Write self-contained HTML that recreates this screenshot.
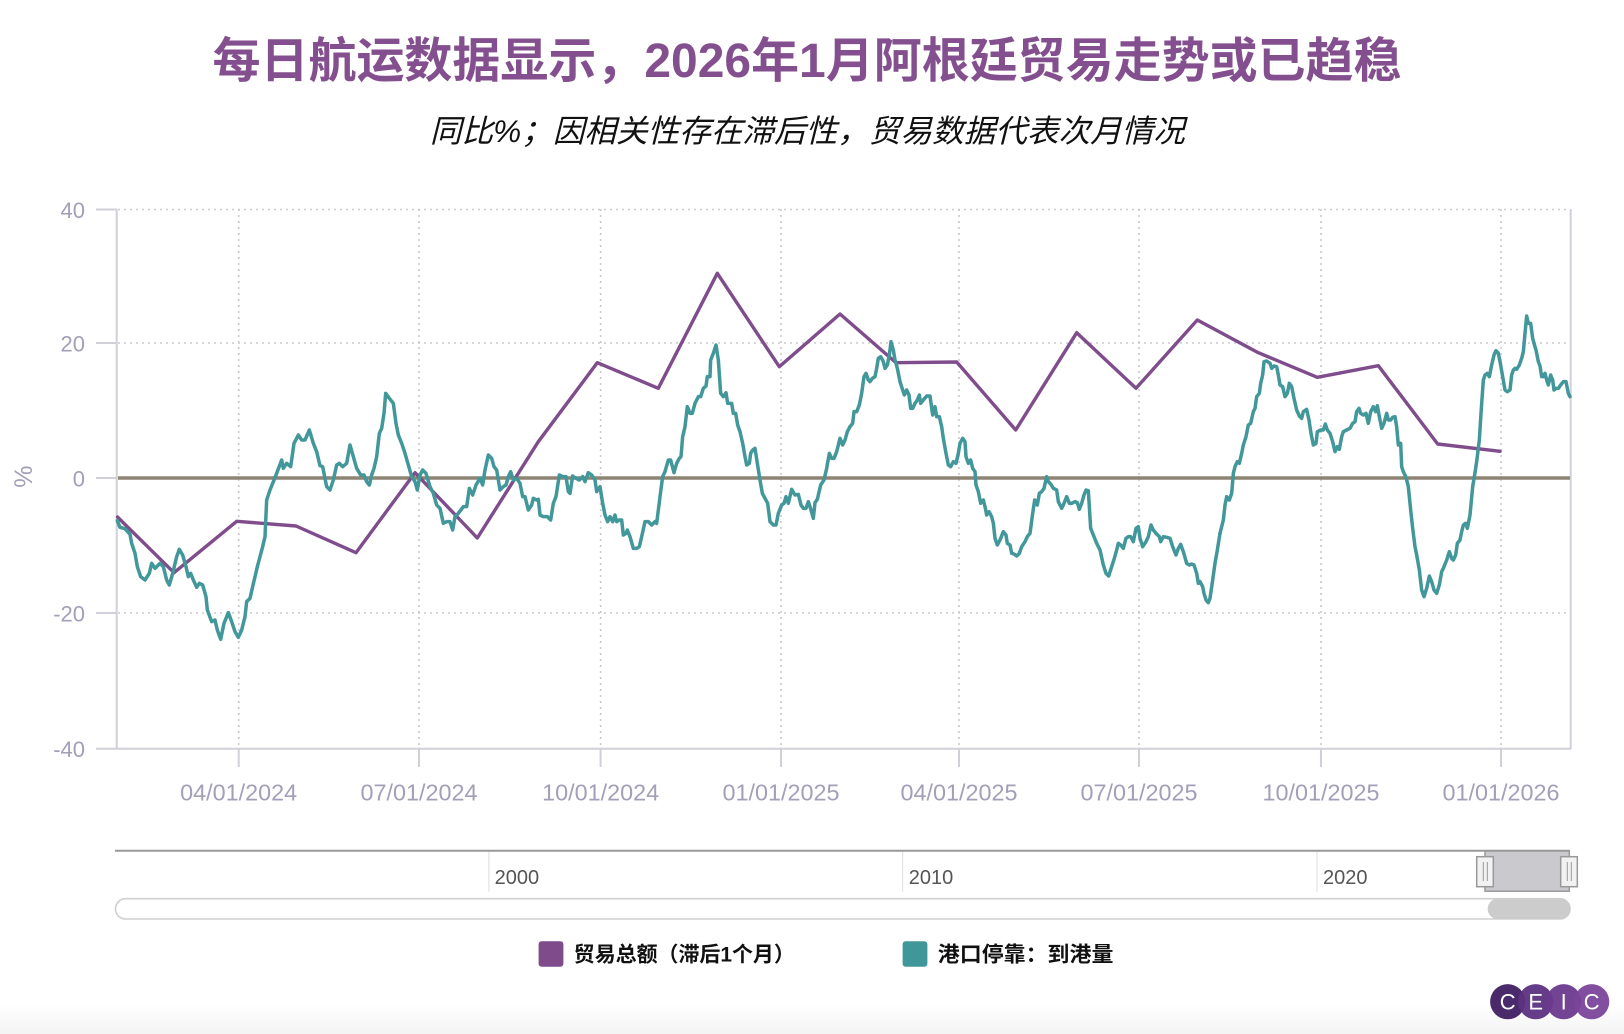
<!DOCTYPE html>
<html><head><meta charset="utf-8"><style>
html,body{margin:0;padding:0;background:#fff;}
svg{display:block;}
text{font-family:"Liberation Sans","Noto Sans CJK SC",sans-serif;}
</style></head><body>
<svg width="1624" height="1034" viewBox="0 0 1624 1034" xmlns="http://www.w3.org/2000/svg">
<defs><linearGradient id="bg" x1="0" y1="0" x2="0" y2="1"><stop offset="0" stop-color="#ffffff"/><stop offset="1" stop-color="#f3f3f3"/></linearGradient></defs>
<rect x="0" y="0" width="1624" height="1034" fill="#fff"/>
<rect x="0" y="1004" width="1624" height="30" fill="url(#bg)"/>

<!-- Title -->
<text x="807" y="77" text-anchor="middle" font-size="48" font-weight="bold" fill="#844f8e" textLength="1189" lengthAdjust="spacingAndGlyphs">每日航运数据显示，2026年1月阿根廷贸易走势或已趋稳</text>
<text x="807.4" y="142" text-anchor="middle" font-size="31.5" font-style="italic" fill="#111" textLength="755" lengthAdjust="spacingAndGlyphs">同比%；因相关性存在滞后性，贸易数据代表次月情况</text>

<!-- grid -->
<g stroke="#c9c9cf" stroke-width="1.6" stroke-dasharray="2,4" fill="none">
<line x1="118" y1="209.5" x2="1570" y2="209.5"/>
<line x1="118" y1="343" x2="1570" y2="343"/>
<line x1="118" y1="613" x2="1570" y2="613"/>
<line x1="238.7" y1="209" x2="238.7" y2="748"/>
<line x1="419" y1="209" x2="419" y2="748"/>
<line x1="600.6" y1="209" x2="600.6" y2="748"/>
<line x1="781" y1="209" x2="781" y2="748"/>
<line x1="959" y1="209" x2="959" y2="748"/>
<line x1="1139" y1="209" x2="1139" y2="748"/>
<line x1="1321" y1="209" x2="1321" y2="748"/>
<line x1="1501" y1="209" x2="1501" y2="748"/>
</g>

<!-- axes -->
<g stroke="#d0d0d8" stroke-width="2" fill="none">
<line x1="116.7" y1="209" x2="116.7" y2="749"/>
<line x1="1570.7" y1="209" x2="1570.7" y2="749"/>
<line x1="96" y1="748.7" x2="1571" y2="748.7"/>
<line x1="96" y1="209.5" x2="117" y2="209.5"/>
<line x1="96" y1="343" x2="117" y2="343"/>
<line x1="96" y1="478" x2="117" y2="478"/>
<line x1="96" y1="613" x2="117" y2="613"/>
<line x1="238.7" y1="748" x2="238.7" y2="767"/>
<line x1="419" y1="748" x2="419" y2="767"/>
<line x1="600.6" y1="748" x2="600.6" y2="767"/>
<line x1="781" y1="748" x2="781" y2="767"/>
<line x1="959" y1="748" x2="959" y2="767"/>
<line x1="1139" y1="748" x2="1139" y2="767"/>
<line x1="1321" y1="748" x2="1321" y2="767"/>
<line x1="1501" y1="748" x2="1501" y2="767"/>
</g>

<!-- y labels -->
<g font-size="22" fill="#a39fb8" text-anchor="end">
<text x="85" y="218">40</text>
<text x="85" y="351.5">20</text>
<text x="85" y="486.5">0</text>
<text x="85" y="621.5">-20</text>
<text x="85" y="757">-40</text>
</g>
<text transform="translate(32,476.7) rotate(-90)" text-anchor="middle" font-size="25" fill="#a39fb8">%</text>

<!-- x labels -->
<g font-size="23" fill="#a39fb8" text-anchor="middle">
<text x="238.7" y="800.7" textLength="117" lengthAdjust="spacingAndGlyphs">04/01/2024</text>
<text x="419" y="800.7" textLength="117" lengthAdjust="spacingAndGlyphs">07/01/2024</text>
<text x="600.6" y="800.7" textLength="117" lengthAdjust="spacingAndGlyphs">10/01/2024</text>
<text x="781" y="800.7" textLength="117" lengthAdjust="spacingAndGlyphs">01/01/2025</text>
<text x="959" y="800.7" textLength="117" lengthAdjust="spacingAndGlyphs">04/01/2025</text>
<text x="1139" y="800.7" textLength="117" lengthAdjust="spacingAndGlyphs">07/01/2025</text>
<text x="1321" y="800.7" textLength="117" lengthAdjust="spacingAndGlyphs">10/01/2025</text>
<text x="1501" y="800.7" textLength="117" lengthAdjust="spacingAndGlyphs">01/01/2026</text>
</g>

<!-- zero line -->
<line x1="118" y1="478" x2="1570" y2="478" stroke="#8e8474" stroke-width="3.4"/>

<!-- purple series -->
<polyline fill="none" stroke="#7f4c8c" stroke-width="3.4" stroke-linejoin="round" stroke-linecap="round" points="117.5,517 174,572.7 236.7,521.3 296,526 356,552.7 415,472.7 477.3,538 538.3,441.7 597.3,362.7 658.3,388.3 717.3,273.3 779.3,366.7 840,314 896,362.7 956.7,362 1015.7,430 1076.7,332.7 1136,388.3 1197.3,320 1258.3,352.7 1317.3,377.3 1378.3,365.7 1437.7,444 1500,451.3"/>

<!-- teal series -->
<g fill="none" stroke="#41979a" stroke-width="10.5" stroke-linejoin="round" stroke-linecap="round">
<polyline transform="translate(100,300) scale(0.333333)" points="52,662 60,682 75,686 90,703 95,730 105,760 112,800 122,830 135,840 148,820 155,790 165,805 180,790 190,800 200,840 208,855 218,820 230,770 238,748 248,765 258,800 265,830 272,820 280,840 290,862 298,850 308,855 318,890 322,930 335,965 345,960 352,990 362,1018 372,970 385,938 395,965 405,995 415,1012 425,990 435,950 440,905 450,895 458,860 465,830 472,800 480,770 488,740 495,710 500,600 505,585 510,570 520,545 530,520 545,480 550,505 560,490 572,500 582,430 595,405 605,420 615,420 628,390 640,430 650,455 660,497 668,500 680,560 690,570 700,540 710,495 718,490 728,500 740,490 750,435 760,470 770,505 782,525 792,525 800,545 808,555 815,525 822,505 830,470 838,400 845,385 852,340 857,280 868,295 880,310 888,370 895,405 905,430 915,460 925,495 935,530 945,545 952,570 960,525 968,510 978,520 990,560 1000,580 1010,615 1020,625 1030,670 1040,665 1050,665 1058,690 1065,650 1075,640 1090,620 1100,620 1108,565 1118,585 1128,555 1140,535"/>
<polyline transform="translate(470,250) scale(0.333333)" points="30,685 38,705 45,660 55,615 65,625 72,650 80,660 90,720 100,710 108,705 115,680 122,665 130,690 140,685 150,700 158,740 165,740 175,780 185,765 190,745 200,750 205,748 210,795 220,800 232,800 242,810 250,760 258,740 268,675 278,680 288,680 295,725 300,730 308,678 318,685 328,690 338,680 345,695 355,668 365,675 375,690 380,725 390,710 398,760 405,795 413,815 420,800 428,815 435,795 440,815 448,810 455,810 460,855 468,850 472,840 480,860 490,895 500,895 508,890 515,860 525,815 535,815 545,825 555,815 560,820 570,740 578,680 585,665 595,630 602,630 612,668 620,640 628,625 633,620 638,560 645,530 652,470 660,490 667,490 675,460 685,440 692,440 700,415 708,408 712,380 720,380 722,330 730,310 738,285 745,330 752,430 760,440 768,428 773,460 785,460 790,490 797,490 803,525 810,545 818,580 825,620 830,645 838,640 842,610 848,600 855,595 862,640 870,690 877,730 885,745 893,760 900,815 910,825 918,825 925,790 935,765 942,760 948,740 955,760 965,718 975,735 985,733 993,765 1000,775 1008,775 1015,755 1020,770 1030,805 1035,758 1042,748 1052,705 1062,690 1070,655 1078,610 1085,625 1092,625 1100,605 1110,565 1118,585 1125,570 1132,545 1140,530"/>
<polyline transform="translate(840,280) scale(0.333333)" points="30,440 38,430 42,395 50,395 58,375 65,340 72,290 78,280 85,300 90,305 97,295 105,290 110,265 115,235 122,230 130,245 135,265 142,255 148,225 153,185 160,210 165,240 172,265 180,305 188,330 193,345 200,330 207,345 212,385 218,385 225,370 232,360 238,345 242,370 250,360 260,348 270,348 278,405 285,380 290,410 298,410 305,440 310,475 318,520 325,555 332,560 340,545 348,550 355,520 360,490 368,475 375,485 378,530 385,550 392,540 398,565 405,575 408,615 415,635 422,670 430,660 435,680 440,705 447,695 455,710 460,730 465,775 472,795 480,780 490,755 498,765 502,790 510,795 515,820 522,822 530,828 538,820 545,800 555,785 562,770 570,760 578,700 584,660 592,675 598,640 605,635 612,625 620,590 625,605 632,612 640,625 650,630 655,665 665,685 670,675 680,650 688,670 695,670 705,665 712,668 718,688 725,670 732,645 738,630 745,632 752,745 760,765 770,790 780,810 790,855 798,880 806,888 815,860 823,835 830,810 835,790 842,795 850,805 858,775 865,770 872,770 880,785 888,745 895,740 900,775 908,800 918,785 925,770 933,735 940,750 948,760 958,770 962,785 970,770 980,772 990,775 998,800 1008,825 1015,805 1022,793 1030,815 1040,850 1048,855 1055,852 1062,855 1070,880 1075,910 1080,905 1088,920 1092,940 1098,960 1105,968 1110,955 1118,900 1125,850 1132,810 1140,760"/>
<polyline transform="translate(1210,280) scale(0.333333)" points="30,760 40,720 45,675 50,650 58,660 65,640 70,580 75,560 82,545 88,550 95,520 100,495 108,470 115,435 122,430 130,395 135,385 140,350 148,340 152,310 158,285 162,245 170,243 180,250 185,265 192,258 200,260 205,285 210,315 218,320 225,350 232,340 238,310 245,320 252,355 260,390 268,408 275,415 280,395 290,388 297,420 303,460 310,495 318,490 322,455 332,450 340,450 346,432 352,450 360,460 368,485 375,515 382,500 388,508 395,470 400,455 410,450 420,445 428,430 435,425 440,395 447,385 452,400 460,405 468,400 475,430 482,395 490,380 497,395 502,377 508,410 515,445 522,430 530,400 535,420 542,420 548,412 555,410 560,440 565,495 572,490 575,560 580,575 588,592 595,620 602,690 608,745 615,800 620,825 628,870 635,930 642,950 650,925 658,888 665,905 672,930 680,940 688,915 695,875 700,865 710,840 718,815 725,835 730,840 737,825 742,790 750,780 755,755 760,735 767,730 772,745 780,705 788,620 795,578 800,545 808,480 813,400 820,300 825,285 832,280 838,290 845,255 852,225 858,212 865,220 872,255 878,290 885,330 892,335 900,330 905,285 910,270 915,265 920,268 928,255 935,235 940,215 945,160 950,108 955,130 962,130 968,175 972,190 978,210 985,245 990,258 995,290 1000,290 1005,280 1010,300 1015,315 1022,285 1028,300 1032,330 1038,325 1045,325 1052,315 1060,305 1068,305 1075,340 1080,350"/>
</g>

<!-- navigator -->
<g stroke="#e2e2e2" stroke-width="1.2">
<line x1="488.9" y1="851" x2="488.9" y2="891.7"/>
<line x1="902.6" y1="851" x2="902.6" y2="891.7"/>
<line x1="1317" y1="851" x2="1317" y2="891.7"/>
</g>
<g font-size="20" fill="#555">
<text x="494.6" y="884">2000</text>
<text x="908.8" y="884">2010</text>
<text x="1323" y="884">2020</text>
</g>
<rect x="1485" y="850.7" width="84.3" height="40.5" fill="#c9c9ce" stroke="#9a9a9a" stroke-width="1.5"/>
<line x1="115" y1="850.7" x2="1569.5" y2="850.7" stroke="#999" stroke-width="2"/>
<rect x="1476.7" y="856.7" width="16.6" height="30" fill="#f2f2f2" stroke="#999" stroke-width="1.5"/>
<line x1="1483.3" y1="862" x2="1483.3" y2="881" stroke="#999" stroke-width="1"/>
<line x1="1487.3" y1="862" x2="1487.3" y2="881" stroke="#999" stroke-width="1"/>
<rect x="1560.7" y="856.7" width="16.6" height="30" fill="#f2f2f2" stroke="#999" stroke-width="1.5"/>
<line x1="1567.3" y1="862" x2="1567.3" y2="881" stroke="#999" stroke-width="1"/>
<line x1="1571.3" y1="862" x2="1571.3" y2="881" stroke="#999" stroke-width="1"/>
<!-- scrollbar -->
<rect x="115.5" y="898.7" width="1454.5" height="20.3" rx="10" ry="10" fill="#fff" stroke="#cfcfcf" stroke-width="1.6"/>
<rect x="1487.7" y="898.7" width="82.3" height="20.3" rx="10" ry="10" fill="#cccccc"/>

<!-- legend -->
<rect x="538.6" y="941.3" width="24.8" height="25.4" rx="3" fill="#7f4b8b"/>
<text x="573.8" y="961.5" font-size="21" font-weight="bold" fill="#111" textLength="221" lengthAdjust="spacingAndGlyphs">贸易总额（滞后1个月）</text>
<rect x="902.6" y="941.3" width="24.8" height="25.4" rx="3" fill="#40979a"/>
<text x="937.8" y="961.5" font-size="21" font-weight="bold" fill="#111" textLength="175.6" lengthAdjust="spacingAndGlyphs">港口停靠：到港量</text>

<!-- CEIC logo -->
<g>
<circle cx="1507.7" cy="1001.7" r="17.6" fill="#4a2a6b"/>
<circle cx="1535.7" cy="1001.7" r="17.6" fill="#5c3282" fill-opacity="0.95"/>
<circle cx="1563.7" cy="1001.7" r="17.6" fill="#6b3a8e" fill-opacity="0.95"/>
<circle cx="1591.7" cy="1001.7" r="17.6" fill="#7b449b" fill-opacity="0.95"/>
<g font-size="22" fill="#fff" text-anchor="middle">
<text x="1507.7" y="1009.5">C</text>
<text x="1535.7" y="1009.5">E</text>
<text x="1563.7" y="1009.5">I</text>
<text x="1591.7" y="1009.5">C</text>
</g>
</g>
</svg>
</body></html>
